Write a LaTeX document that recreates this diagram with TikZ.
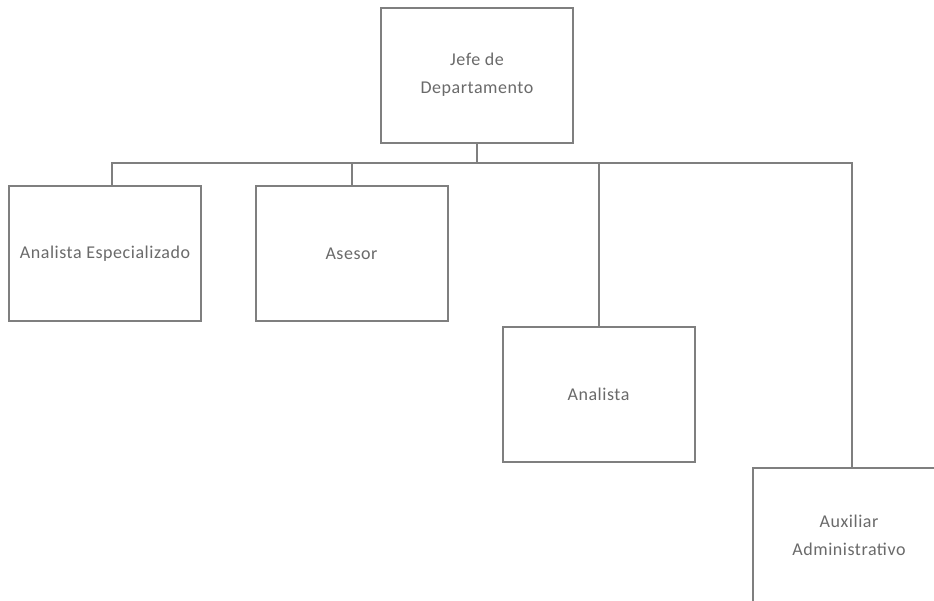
\documentclass[tikz,border=0pt]{standalone}
\usepackage{fontspec}
\setmainfont{Carlito}[LetterSpace=3]
\definecolor{linegray}{HTML}{7F7F7F}
\definecolor{textgray}{HTML}{6A6A6A}
\begin{document}
\begin{tikzpicture}[x=1pt,y=-1pt,
  box/.style={draw=linegray, line width=2pt, fill=white,
    minimum width=192pt, minimum height=135pt, inner sep=0pt,
    text=textgray, font=\fontsize{18}{28}\selectfont, align=center},
  conn/.style={draw=linegray, line width=2pt, line join=miter}]
\useasboundingbox (0,0) rectangle (934,600);
\clip (0,0) rectangle (934,600);

% positions
\node[box] (jefe) at (477,75) {Jefe de\\Departamento};
\node[box] (ae)   at (105,253.5) {Analista Especializado};
\node[box] (ase)  at (351.5,253.5) {Asesor};
\node[box] (ana)  at (598.5,394) {Analista};
\node[box] (aux)  at (849,535.5) {Auxiliar\\Administrativo};

% distribution bus
\coordinate (busL) at (112,163);
\coordinate (busR) at (851.5,163);

\draw[conn] (jefe.south) -- (jefe.south |- busL);
\draw[conn] (busL |- ae.north) -- (busL) -- (busR) -- (busR |- aux.north);
\draw[conn] (ase.north |- busL) -- (ase.north);
\draw[conn] (ana.north |- busL) -- (ana.north);
\end{tikzpicture}
\end{document}
